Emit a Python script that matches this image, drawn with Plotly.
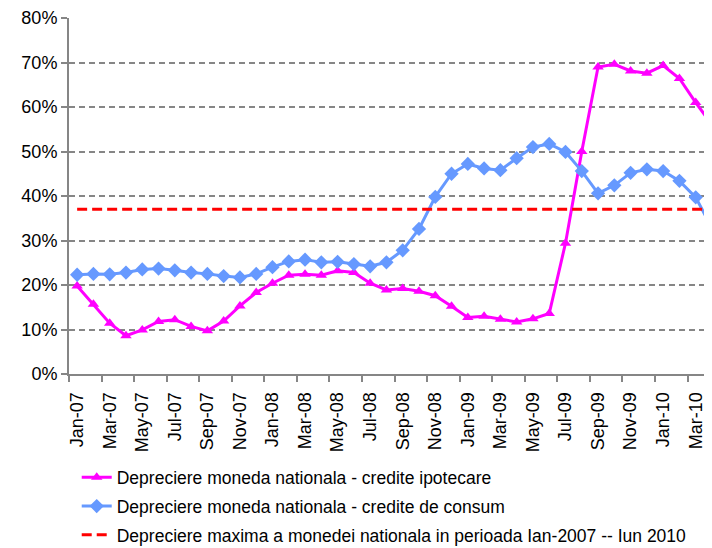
import plotly.graph_objects as go

months = ["Jan-07","Feb-07","Mar-07","Apr-07","May-07","Jun-07","Jul-07","Aug-07","Sep-07","Oct-07","Nov-07","Dec-07",
          "Jan-08","Feb-08","Mar-08","Apr-08","May-08","Jun-08","Jul-08","Aug-08","Sep-08","Oct-08","Nov-08","Dec-08",
          "Jan-09","Feb-09","Mar-09","Apr-09","May-09","Jun-09","Jul-09","Aug-09","Sep-09","Oct-09","Nov-09","Dec-09",
          "Jan-10","Feb-10","Mar-10","Apr-10"]

ipotecare = [19.8, 15.7, 11.4, 8.6, 9.9, 11.8, 12.2, 10.7, 9.7, 11.9, 15.3, 18.3,
             20.4, 22.2, 22.4, 22.2, 23.2, 22.8, 20.4, 18.9, 19.2, 18.6, 17.6, 15.2,
             12.7, 13.0, 12.3, 11.7, 12.4, 13.6, 29.4, 50.0, 69.0, 69.6, 68.1, 67.6,
             69.3, 66.4, 61.0, 56.0]

consum = [22.3, 22.5, 22.4, 22.8, 23.5, 23.7, 23.3, 22.8, 22.5, 22.0, 21.7, 22.5,
          24.0, 25.3, 25.7, 25.1, 25.2, 24.7, 24.2, 25.1, 27.8, 32.6, 39.8, 45.0,
          47.2, 46.2, 45.8, 48.5, 51.0, 51.7, 49.9, 45.6, 40.6, 42.4, 45.2, 46.0,
          45.6, 43.4, 39.7, 32.8]

maxim = [37.0] * len(months)

names = ["Depreciere moneda nationala - credite ipotecare",
         "Depreciere moneda nationala - credite de consum",
         "Depreciere maxima a monedei nationala in perioada Ian-2007 -- Iun 2010"]

x = list(range(len(months)))
pct = lambda v: [a / 100 for a in v]

fig = go.Figure()
fig.add_trace(go.Scatter(x=x, y=pct(ipotecare), name=names[0], mode="lines+markers",
                         line=dict(color="#FF00FF", width=3),
                         marker=dict(symbol="triangle-up", size=10, color="#FF00FF"),
                         legendgroup="a"))
fig.add_trace(go.Scatter(x=x, y=pct(consum), name=names[1], mode="lines+markers",
                         line=dict(color="#6699FF", width=3),
                         marker=dict(symbol="diamond", size=11, color="#6699FF"),
                         legendgroup="b"))
fig.add_trace(go.Scatter(x=x, y=pct(maxim), name=names[2], mode="lines",
                         line=dict(color="#FF0000", width=3, dash="10px,5px"),
                         legendgroup="c"))

fig.update_layout(
    width=704, height=540,
    margin=dict(l=61, r=0, t=10, b=174, autoexpand=False),
    plot_bgcolor="white", paper_bgcolor="white",
    font=dict(family="Liberation Sans, Arial, sans-serif", color="black"),
    showlegend=True,
    legend=dict(orientation="v", x=0.012, y=-0.24, xanchor="left", yanchor="top",
                font=dict(size=17.5), tracegroupgap=3, traceorder="grouped",
                bgcolor="rgba(0,0,0,0)"),
)

fig.update_xaxes(range=[-0.5, 39.0], tickmode="array",
                 tickvals=x[::2], ticktext=months[::2], tickangle=-90,
                 ticks="", tickfont=dict(size=18), ticklabelstandoff=9,
                 showline=True, linecolor="#868686", linewidth=2,
                 showgrid=False, zeroline=False,
                 minor=dict(tickmode="array", tickvals=[i - 0.5 for i in range(0, 40, 2)],
                            ticks="outside", ticklen=6, tickcolor="#868686", tickwidth=1.5, showgrid=False))
fig.update_yaxes(range=[0, 0.8], tickmode="linear", tick0=0, dtick=0.1, tickformat=".0%",
                 tickfont=dict(size=18), ticks="outside", ticklen=6, tickcolor="#868686", tickwidth=1.5,
                 showline=True, linecolor="#868686", linewidth=2,
                 showgrid=True, gridcolor="#868686", gridwidth=1.5, griddash="6px,4px",
                 zeroline=False)

fig.write_html("out.html")
